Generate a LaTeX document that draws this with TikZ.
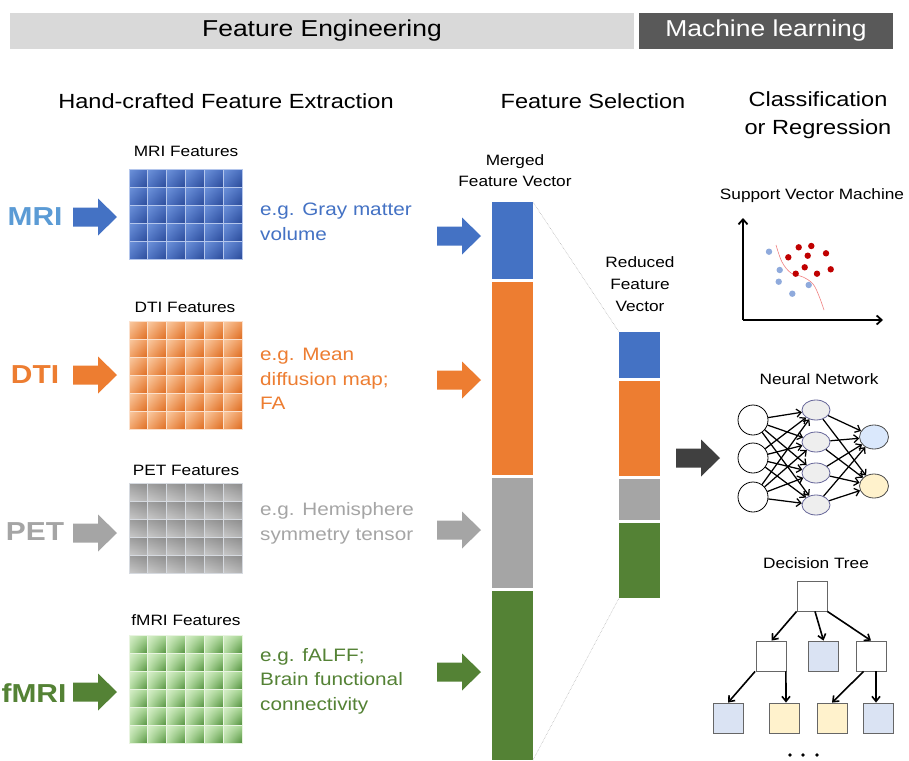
\documentclass[tikz,border=0pt]{standalone}
\usepackage{fontspec}
\setmainfont[FakeStretch=1.15]{Liberation Sans}
\usetikzlibrary{shadings,arrows.meta,calc,shapes.geometric}
\definecolor{mriL}{HTML}{5B9BD5}
\definecolor{mriB}{HTML}{4472C4}
\definecolor{dtiO}{HTML}{ED7D31}
\definecolor{petG}{HTML}{A5A5A5}
\definecolor{fmriG}{HTML}{548235}
\definecolor{hdrL}{HTML}{D9D9D9}
\definecolor{hdrD}{HTML}{595959}
\definecolor{svmR}{HTML}{C00000}
\definecolor{svmB}{HTML}{8FAADC}
\definecolor{svmC}{HTML}{F08080}
\definecolor{dtBlue}{HTML}{DAE3F3}
\definecolor{dtYel}{HTML}{FFF2CC}
\definecolor{nnBlue}{HTML}{DAE8FC}
\definecolor{nnGray}{HTML}{EEEEEE}
\definecolor{arrD}{HTML}{404040}
% grid colours
\definecolor{mUL}{HTML}{6E93DA}\definecolor{mUR}{HTML}{4A6FC0}\definecolor{mLL}{HTML}{4F74C4}\definecolor{mLR}{HTML}{2A4A98}\definecolor{mS}{HTML}{B4C6EC}
\definecolor{dUL}{HTML}{F9CBA4}\definecolor{dUR}{HTML}{F09A5C}\definecolor{dLL}{HTML}{F2A46A}\definecolor{dLR}{HTML}{DD6A1E}\definecolor{dS}{HTML}{FBE0CC}
\definecolor{pUL}{HTML}{9C9C9C}\definecolor{pUR}{HTML}{8C8C8C}\definecolor{pLL}{HTML}{C9C9C9}\definecolor{pLR}{HTML}{B4B4B4}\definecolor{pS}{HTML}{D6DAE0}
\definecolor{fUL}{HTML}{D8EFCB}\definecolor{fUR}{HTML}{A9D895}\definecolor{fLL}{HTML}{B8E0A6}\definecolor{fLR}{HTML}{4F8E3A}\definecolor{fS}{HTML}{E8F4E0}
\newcommand\fgrid[9]{%
  \foreach \i in {0,...,5}{
    \foreach \j in {1,...,#3}{
      \shadedraw[draw=#8, line width=0.9, upper left=#4, upper right=#5, lower left=#6, lower right=#7]
        ({#1+\i*18.83},{#2+(\j-1)*18}) rectangle ++(18.83,18);
    }
  }
  \coordinate (#9) at ({#1+56.5},{#2+#3*9});
}
\begin{document}
\begin{tikzpicture}[x=1pt,y=-1pt,
  hdrbar/.style={minimum width=#1, minimum height=36, inner sep=0, font=\fontsize{23}{28}\selectfont},
  sec/.style={font=\fontsize{20.5}{28}\selectfont, align=center, inner sep=0},
  lab/.style={font=\fontsize{15}{21}\selectfont, align=center, inner sep=0},
  big/.style={font=\fontsize{26}{30}\selectfont\bfseries, inner sep=0},
  eg/.style={font=\fontsize{18}{24.5}\selectfont, align=left, anchor=west, inner sep=0},
  fatarrow/.pic={\fill (0,-9.5) -- (25,-9.5) -- (25,-18.5) -- (44,0) -- (25,18.5) -- (25,9.5) -- (0,9.5) -- cycle;},
  bar/.style={minimum width=41, minimum height=#1, inner sep=0, outer sep=0, anchor=north west},
  nnedge/.style={-{Straight Barb[length=4.5pt,width=8pt]}, line width=1.25},
  dtedge/.style={-{Straight Barb[length=5pt,width=8pt]}, line width=1.6},
  nin/.style={circle, draw, line width=0.8, minimum size=30, inner sep=0, fill=white},
  nhid/.style={ellipse, draw=gray!80!blue, line width=0.8, minimum width=28, minimum height=20, inner sep=0, fill=nnGray},
  nout/.style={ellipse, draw=black!70, line width=0.8, minimum width=29, minimum height=24, inner sep=0, fill=#1},
  dtbox/.style={draw=black!60, line width=0.8, minimum size=30, inner sep=0, fill=#1},
  dot/.style={circle, fill=#1, inner sep=0, minimum size=6.4}
]
\useasboundingbox (0,0) rectangle (909,760);
\fill[white] (0,0) rectangle (909,760);

% header
\node[hdrbar=624, fill=hdrL] (fe) at (322,31) {Feature Engineering};
\node[hdrbar=254, fill=hdrD, text=white] (ml) at (766,31) {Machine learning};

% section titles
\node[sec] (hfe) at (226,101) {Hand-crafted Feature Extraction};
\node[sec] (fs) at (593,101) {Feature Selection};
\node[sec] (cr) at (818,115) {Classification\\or Regression};

% MRI row
\node[big, text=mriL] (lmri) at (35,217) {MRI};
\pic[color=mriB] (amri) at (73,217) {fatarrow};
\node[lab] (tmri) at (186,151) {MRI Features};
\fgrid{129}{169}{5}{mUL}{mUR}{mLL}{mLR}{mS}{gmri}
\node[eg, text=mriB] (emri) at (260,222) {e.g. Gray matter\\volume};

% DTI row
\node[big, text=dtiO] (ldti) at (35,375) {DTI};
\pic[color=dtiO] (adti) at (73,375) {fatarrow};
\node[lab] (tdti) at (185,307) {DTI Features};
\fgrid{129}{321}{6}{dUL}{dUR}{dLL}{dLR}{dS}{gdti}
\node[eg, text=dtiO] (edti) at (260,379) {e.g. Mean\\diffusion map;\\FA};

% PET row
\node[big, text=petG] (lpet) at (35,532) {PET};
\pic[color=petG] (apet) at (73,533) {fatarrow};
\node[lab] (tpet) at (186,470) {PET Features};
\fgrid{129}{483}{5}{pUL}{pUR}{pLL}{pLR}{pS}{gpet}
\node[eg, text=petG] (epet) at (260,523.5) {e.g. Hemisphere\\symmetry tensor};

% fMRI row
\node[big, text=fmriG] (lfmri) at (34,693) {fMRI};
\pic[color=fmriG] (afmri) at (73,692) {fatarrow};
\node[lab] (tfmri) at (186,620) {fMRI Features};
\fgrid{129}{635}{6}{fUL}{fUR}{fLL}{fLR}{fS}{gfmri}
\node[eg, text=fmriG] (efmri) at (260,681) {e.g. fALFF;\\Brain functional\\connectivity};

% arrows into merged vector
\pic[color=mriB] (m1) at (437,236) {fatarrow};
\pic[color=dtiO] (m2) at (437,380) {fatarrow};
\pic[color=petG] (m3) at (437,530) {fatarrow};
\pic[color=fmriG] (m4) at (437,672) {fatarrow};

% merged feature vector
\node[lab] (mfvl) at (515,171) {Merged\\Feature Vector};
\node[bar=77, fill=mriB] (mb) at (492,202) {};
\node[bar=193, fill=dtiO] (mo) at (492,282) {};
\node[bar=110, fill=petG] (mg) at (492,478) {};
\node[bar=169, fill=fmriG] (mf) at (492,591) {};

% reduced feature vector
\node[lab, font=\fontsize{15}{22}\selectfont] (rfvl) at (640,284) {Reduced\\Feature\\Vector};
\node[bar=46, fill=mriB] (rb) at (619,332) {};
\node[bar=95, fill=dtiO] (ro) at (619,381) {};
\node[bar=41, fill=petG] (rg) at (619,479) {};
\node[bar=75, fill=fmriG] (rf) at (619,523) {};

\draw[gray!70, line width=0.5, densely dotted] (mb.north east) -- (rb.north west);
\draw[gray!70, line width=0.5, densely dotted] (mf.south east) -- (rf.south west);

% dark arrow
\pic[color=arrD] (darr) at (676,458) {fatarrow};

% SVM
\node[lab] (svmt) at (812,196) {Support Vector Machine};
\coordinate (so) at (743,320);
\coordinate (sy) at (743,218);
\coordinate (sx) at (883,320);
\draw[line width=1.8, -{Straight Barb[length=5pt,width=9pt]}] (so) -- (sy);
\draw[line width=1.8, -{Straight Barb[length=5pt,width=9pt]}] (so) -- (sx);
\draw[svmC, line width=0.6] plot[smooth, tension=0.6] coordinates {(776,245) (782,262) (791,273) (803,277) (813,284) (819,296) (824,310)};
\foreach \p [count=\k] in {(798.7,247.3),(811.3,246),(788.3,257.3),(807.7,255.7),(826,253.3),(804.7,267.3),(795.7,273.7),(817,273.7),(830.7,269.3)}
  \node[dot=svmR] (sr\k) at \p {};
\foreach \p [count=\k] in {(769,251.7),(779.7,270),(778.7,281.7),(792.3,293.7),(808.7,285)}
  \node[dot=svmB] (sb\k) at \p {};

% Neural network
\node[lab] (nnt) at (819,379) {Neural Network};
\node[nin] (i1) at (753,420) {};
\node[nin] (i2) at (753,458) {};
\node[nin] (i3) at (753,497) {};
\node[nhid] (h1) at (816,410) {};
\node[nhid] (h2) at (816,442) {};
\node[nhid] (h3) at (816,473) {};
\node[nhid] (h4) at (816,505) {};
\node[nout=nnBlue] (o1) at (874,437) {};
\node[nout=dtYel] (o2) at (874,486) {};
\foreach \a in {1,2,3} \foreach \b in {1,...,4} \draw[nnedge] (i\a) -- (h\b);
\foreach \a in {1,...,4} \foreach \b in {1,2} \draw[nnedge] (h\a) -- (o\b);

% Decision tree
\node[lab] (dtt) at (816,563) {Decision Tree};
\node[dtbox=white] (root) at (812,596) {};
\node[dtbox=white] (tl) at (771.5,656) {};
\node[dtbox=dtBlue] (tm) at (823.5,656) {};
\node[dtbox=white] (tr) at (871,656) {};
\node[dtbox=dtBlue] (b1) at (728,718) {};
\node[dtbox=dtYel] (b2) at (784.5,718) {};
\node[dtbox=dtYel] (b3) at (832,718) {};
\node[dtbox=dtBlue] (b4) at (878.5,718) {};
\draw[dtedge] (root.south west) -- (tl.north);
\draw[dtedge] ([xshift=3pt]root.south) -- (tm.north);
\draw[dtedge] (root.south east) -- (tr.north);
\draw[dtedge] ([xshift=-1pt]tl.south west) -- (b1.north);
\draw[dtedge] ([xshift=-1pt]tl.south east) -- ([xshift=1.5pt]b2.north);
\draw[dtedge] ([xshift=8pt]tr.south west) -- (b3.north);
\draw[dtedge] ([xshift=5pt]tr.south) -- ([xshift=-2.5pt]b4.north);
\foreach \x [count=\k] in {790,803,817} \fill (\x,755) circle (1.8);
\end{tikzpicture}
\end{document}
